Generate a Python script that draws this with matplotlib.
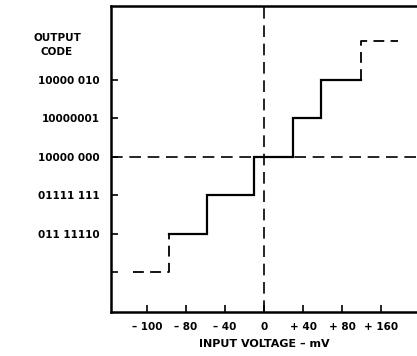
import matplotlib
matplotlib.use("Agg")
from matplotlib import pyplot as plt

plt.rcParams['font.family'] = ['DejaVu Sans']

# tick positions (axis is not to scale, so ticks are evenly spaced slots)
x_ticks = [-3, -2, -1, 0, 1, 2, 3]
x_labels = ["\u2013 100", "\u2013 80", "\u2013 40", "0", "+ 40", "+ 80", "+ 160"]
y_ticks = [2, 1, 0, -1, -2, -3]
y_labels = ["10000 010", "10000001", "10000 000", "01111 111", "011 11110", ""]

# transfer function: solid steps in the middle, dashed ends
solid_x = [-2.44, -1.46, -1.46, -0.26, -0.26, 0.74, 0.74, 1.46, 1.46, 2.49]
solid_y = [-2, -2, -1, -1, 0, 0, 1, 1, 2, 2]
low_x = [-3.36, -2.44, -2.44]
low_y = [-3, -3, -2]
high_x = [2.49, 2.49, 3.44]
high_y = [2, 3, 3]

fig = plt.figure(figsize=(4.17, 3.56), dpi=100)
ax = fig.add_axes([0.266, 0.1236, 0.734, 0.8596])

ax.plot(solid_x, solid_y, color="black", lw=1.6, solid_joinstyle="miter")
ax.plot(low_x, low_y, color="black", lw=1.3, dashes=(6, 3.5))
ax.plot(high_x, high_y, color="black", lw=1.3, dashes=(6, 3.5))

ax.axhline(0, color="black", lw=1.2, dashes=(7, 4))
ax.axvline(0, color="black", lw=1.2, dashes=(7, 4))

ax.set_xlim(-3.92, 3.92)
ax.set_ylim(-4.03, 3.92)

ax.spines["right"].set_visible(False)
for s in ["left", "bottom", "top"]:
    ax.spines[s].set_linewidth(1.8)

ax.set_xticks(x_ticks)
ax.set_xticklabels(x_labels, fontsize=7.5, fontweight="bold")
ax.set_yticks(y_ticks)
ax.set_yticklabels(y_labels, fontsize=7.5, fontweight="bold")
ax.tick_params(axis="both", direction="in", length=5, width=1.2)
ax.tick_params(axis="y", pad=8)
ax.tick_params(axis="x", pad=7)

ax.set_xlabel("INPUT VOLTAGE \u2013 mV", fontsize=8, fontweight="bold", labelpad=5)
fig.text(57 / 417, 1 - 45 / 356, "OUTPUT\nCODE", ha="center", va="center",
         fontsize=7.5, fontweight="bold", linespacing=1.6)

fig.savefig("out.png", dpi=100)
